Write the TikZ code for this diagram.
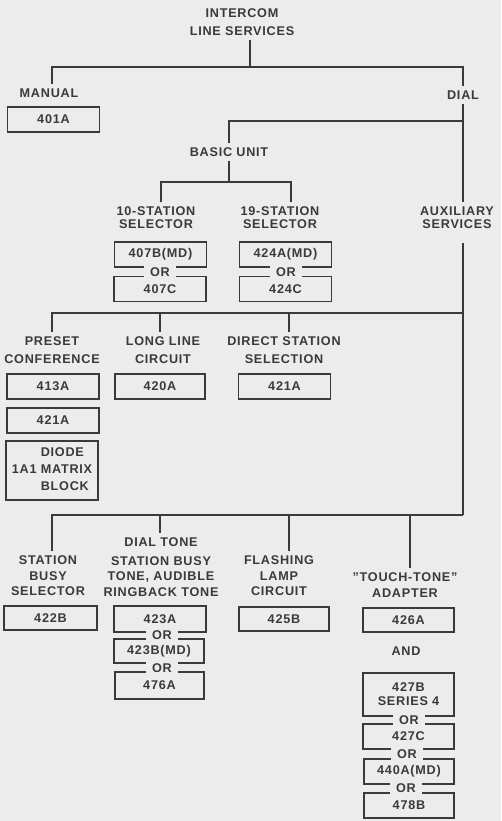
\documentclass[tikz,border=0pt]{standalone}
\usepackage{fontspec}
\setmainfont[LetterSpace=6]{Liberation Sans}
\usetikzlibrary{positioning}
\definecolor{paper}{HTML}{ECECEC}
\definecolor{ink}{HTML}{3A3A3A}
\tikzset{
    normal/.style={draw=ink, line width=0.9pt},
    lbl/.style={text=ink, align=center, inner xsep=1.5pt, inner ysep=2.5pt, font=\bfseries\fontsize{7.2}{8.8}\selectfont}, % plain text labels
    tight/.style={font=\bfseries\fontsize{7.2}{7.4}\selectfont},
    loose/.style={font=\bfseries\fontsize{7.2}{10}\selectfont},
    part/.style={style=normal, lbl, inner sep=0pt, minimum width=1.84cm, minimum height=0.5cm}, % boxed equipment codes
    alt/.style={lbl, fill=paper, inner xsep=3.5pt, inner ysep=1pt}, % "or" between boxes
    te/.style={style=normal} % edges in the tree
}

\begin{document}
\begin{tikzpicture}[x=0.02cm, y=-0.02cm]
        \fill[paper] (0,0) rectangle (501,821);
        \useasboundingbox (0,0) rectangle (501,821);

        % labels
        \node[lbl, loose] (title) at (242,22) {INTERCOM\\LINE SERVICES};
        \node[lbl] (manual) at (49,93) {MANUAL};
        \node[lbl] (dial) at (463,95) {DIAL};
        \node[lbl] (basic) at (229,152) {BASIC UNIT};
        \node[lbl, tight] (sel10) at (156,218) {10-STATION\\SELECTOR};
        \node[lbl, tight] (sel19) at (280,218) {19-STATION\\SELECTOR};
        \node[lbl, tight] (aux) at (457,218) {AUXILIARY\\SERVICES};
        \node[lbl, loose] (preset) at (52,350) {PRESET\\CONFERENCE};
        \node[lbl, loose] (longline) at (163,350) {LONG LINE\\CIRCUIT};
        \node[lbl, loose] (direct) at (284,350) {DIRECT STATION\\SELECTION};
        \node[lbl] (busy) at (48,576) {STATION\\BUSY\\SELECTOR};
        \node[lbl] (tone) at (161,567) {DIAL TONE\\[2pt]STATION BUSY\\TONE, AUDIBLE\\RINGBACK TONE};
        \node[lbl] (flashing) at (279,576) {FLASHING\\LAMP\\CIRCUIT};
        \node[lbl] (touch) at (405,585) {"TOUCH-TONE"\\ADAPTER};
        \node[lbl] (and) at (406,651) {AND};

        % equipment boxes
        \node[part] (p401a) at (53.5,119.5) {401A};
        \node[part] (p407b) at (160.5,254.5) {407B(MD)};
        \node[part] (p407c) at (160,289) {407C};
        \node[part] (p424a) at (285.5,254.5) {424A(MD)};
        \node[part] (p424c) at (285.5,289) {424C};
        \node[part] (p413a) at (53,386.5) {413A};
        \node[part, minimum width=1.8cm] (p420a) at (160,386.5) {420A};
        \node[part] (p421a) at (284.5,386.5) {421A};
        \node[part] (p421b) at (53,420.5) {421A};
        \node[part, minimum height=1.18cm, font=\bfseries\fontsize{7.2}{9.7}\selectfont] (diode) at (52,470.5)
            {\begin{tabular}{@{}r@{\ }l@{}} & DIODE\\ 1A1 & MATRIX\\ & BLOCK\end{tabular}};
        \node[part, minimum width=1.86cm, minimum height=0.48cm] (p422b) at (50.5,618) {422B};
        \node[part, minimum height=0.52cm] (p423a) at (160,619) {423A};
        \node[part, minimum width=1.8cm, minimum height=0.48cm] (p423b) at (159,651) {423B(MD)};
        \node[part, minimum width=1.78cm, minimum height=0.54cm] (p476a) at (159.5,685.5) {476A};
        \node[part, minimum width=1.8cm, minimum height=0.48cm] (p425b) at (284,619) {425B};
        \node[part, minimum width=1.82cm, minimum height=0.48cm] (p426a) at (408.5,620) {426A};
        \node[part, minimum width=1.82cm, minimum height=0.86cm, font=\bfseries\fontsize{7.2}{8}\selectfont] (p427b) at (408.5,694.5) {427B\\SERIES 4};
        \node[part, minimum width=1.82cm] (p427c) at (408.5,736.5) {427C};
        \node[part, minimum width=1.8cm] (p440a) at (409,771.5) {440A(MD)};
        \node[part, minimum width=1.8cm] (p478b) at (409,805.5) {478B};

        % alternatives
        \node[alt] (or1) at (160,272) {OR};
        \node[alt] (or2) at (286,272) {OR};
        \node[alt] (or3) at (162,635) {OR};
        \node[alt] (or4) at (162,668) {OR};
        \node[alt] (or5) at (409,720) {OR};
        \node[alt] (or6) at (407,754.5) {OR};
        \node[alt] (or7) at (406,788.5) {OR};

        % intercom line services
        \coordinate (bar1) at (250,67);
        \coordinate (m1) at (52,67);
        \draw[te] (bar1 |- title.south) -- (bar1);
        \draw[te] (m1 |- manual.north) |- (bar1) -| (dial.north);

        % dial
        \coordinate (bar2) at (463,121);
        \draw[te] (dial.south) -- (dial.south |- aux.north);
        \draw[te] (bar2) -| (basic.north);

        % basic unit
        \coordinate (bar3) at (229,182);
        \coordinate (s10) at (161,182);
        \coordinate (s19) at (291,182);
        \draw[te] (basic.south) -- (bar3);
        \draw[te] (s10 |- sel10.north) |- (s19) -- (s19 |- sel19.north);

        % auxiliary services
        \coordinate (auxtop) at (463,243);
        \coordinate (bar4) at (463,313);
        \coordinate (bar5) at (463,515);
        \draw[te] (auxtop) -- (bar5);
        \coordinate (c1) at (52,313);
        \coordinate (c2) at (160,313);
        \coordinate (c3) at (289,313);
        \draw[te] (c1 |- preset.north) |- (bar4);
        \draw[te] (c2) -- (c2 |- longline.north);
        \draw[te] (c3) -- (c3 |- direct.north);
        \coordinate (d1) at (52,515);
        \coordinate (d2) at (160,515);
        \coordinate (d3) at (289,515);
        \coordinate (d4) at (410,515);
        \draw[te] (d1 |- busy.north) |- (bar5);
        \draw[te] (d2) -- (d2 |- tone.north);
        \draw[te] (d3) -- (d3 |- flashing.north);
        \draw[te] (d4) -- (d4 |- touch.north);
\end{tikzpicture}
\end{document}
